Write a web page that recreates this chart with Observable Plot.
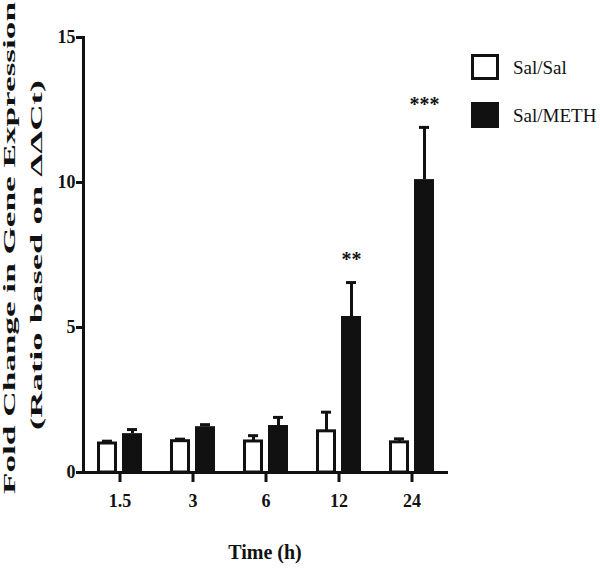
<!DOCTYPE html>
<html><head><meta charset="utf-8">
<script src="https://cdn.jsdelivr.net/npm/d3@7"></script>
<script src="https://cdn.jsdelivr.net/npm/@observablehq/plot@0.6"></script>
<style>body{margin:0;background:#fff}</style>
</head><body><div id="chart"></div>
<script>
const times = ["1.5", "3", "6", "12", "24"];
const groups = ["Sal/Sal", "Sal/METH"];
const salSalMean = [1.0, 1.08, 1.07, 1.42, 1.04];
const salSalSem = [0.08, 0.07, 0.2, 0.66, 0.12];
const salMethMean = [1.34, 1.58, 1.62, 5.38, 10.1];
const salMethSem = [0.14, 0.07, 0.28, 1.17, 1.8];
const stars = ["", "", "", "**", "***"];
const yTicks = [0, 5, 10, 15];
const yTitle = ["Fold Change in Gene Expression", "(Ratio based on \u0394\u0394Ct)"];
const xTitle = "Time (h)";

const data = [];
times.forEach((t, i) => {
  data.push({time: t, group: groups[0], mean: salSalMean[i], sem: salSalSem[i], star: ""});
  data.push({time: t, group: groups[1], mean: salMethMean[i], sem: salMethSem[i], star: stars[i]});
});

const font = "'Liberation Serif', 'Times New Roman', serif";
const ink = "#111";

const plot = Plot.plot({
  width: 600, height: 576,
  marginLeft: 82, marginRight: 152, marginTop: 37, marginBottom: 104,
  style: {fontFamily: font, background: "white", color: ink, overflow: "visible"},
  fx: {domain: times, padding: 0, label: null},
  x: {domain: groups, paddingInner: 0.19, paddingOuter: 0.5, axis: null},
  y: {domain: [0, 15], axis: null},
  color: {domain: groups, range: ["#ffffff", ink]},
  marks: [
    Plot.ruleX(data, {fx: "time", x: "group", y1: "mean", y2: d => d.mean + d.sem, stroke: ink, strokeWidth: 3}),
    Plot.tickY(data, {fx: "time", x: "group", y: d => d.mean + d.sem, stroke: ink, strokeWidth: 3, inset: 5}),
    Plot.barY(data, {filter: d => d.group === groups[0], fx: "time", x: "group", y: "mean", fill: "group", stroke: ink, strokeWidth: 3, insetLeft: 1.5, insetRight: 1.5}),
    Plot.barY(data, {filter: d => d.group === groups[1], fx: "time", x: "group", y: "mean", fill: "group"}),
    Plot.text(data, {filter: d => d.star, fx: "time", x: "group", y: d => d.mean + d.sem, text: "star", dy: -23, fontSize: 20, fontWeight: "bold", fill: ink}),
    Plot.ruleY([0], {stroke: ink, strokeWidth: 3}),
    Plot.frame({anchor: "left", stroke: ink, strokeWidth: 3, facetAnchor: "left"}),
    Plot.axisY({ticks: yTicks, tickSize: 7, tickPadding: 1, fontSize: 18, fontWeight: "bold", strokeWidth: 3, label: null, tickFormat: d => String(d)}),
    Plot.axisFx({anchor: "bottom", tickSize: 10, tickPadding: 12, fontSize: 18, fontWeight: "bold", strokeWidth: 3, label: null})
  ]
});

document.getElementById("chart").appendChild(plot);

const svg = d3.select(plot);
const fxr = plot.scale("fx").range;
const cx = (fxr[0] + fxr[1]) / 2;

svg.append("text")
  .attr("x", cx).attr("y", 552)
  .attr("text-anchor", "middle").attr("dominant-baseline", "central")
  .attr("font-family", font).attr("font-weight", "bold").attr("font-size", 20)
  .attr("fill", ink).text(xTitle);

const titlePos = [{x: 9, y: 248, len: 492}, {x: 36, y: 255, len: 350}];
yTitle.forEach((t, i) => {
  svg.append("text")
    .attr("transform", `translate(${titlePos[i].x},${titlePos[i].y}) rotate(-90)`)
    .attr("text-anchor", "middle").attr("dominant-baseline", "central")
    .attr("font-family", font).attr("font-weight", "bold").attr("font-size", 17)
    .attr("textLength", titlePos[i].len).attr("lengthAdjust", "spacingAndGlyphs")
    .attr("fill", ink).text(t);
});

const colors = plot.scale("color");
groups.forEach((g, i) => {
  const y0 = 54 + 48 * i;
  const fill = colors.apply(g);
  svg.append("rect")
    .attr("x", 472.5).attr("y", y0 + 1.5).attr("width", 25).attr("height", 23)
    .attr("fill", fill).attr("stroke", ink).attr("stroke-width", 3);
  svg.append("text")
    .attr("x", 513).attr("y", y0 + 13)
    .attr("text-anchor", "start").attr("dominant-baseline", "central")
    .attr("font-family", font).attr("font-size", 19)
    .attr("fill", ink).text(g);
});
</script>
</body></html>
